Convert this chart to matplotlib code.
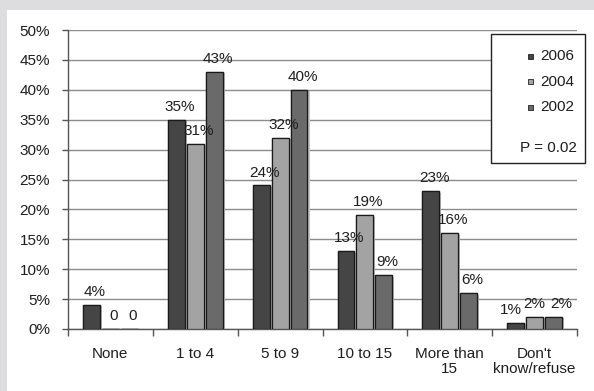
import numpy as np
import matplotlib.pyplot as plt
from matplotlib.patches import Rectangle
import matplotlib.patheffects as pe

plt.rcParams['font.family'] = ['Liberation Sans', 'DejaVu Sans']

# survey data (percent of respondents)
categories = ['None', '1 to 4', '5 to 9', '10 to 15', 'More than\n15', "Don't\nknow/refuse"]
years = ['2006', '2004', '2002']
pct_2006 = [4, 35, 24, 13, 23, 1]
pct_2004 = [0, 31, 32, 19, 16, 2]
pct_2002 = [0, 43, 40, 9, 6, 2]
p_value = 'P = 0.02'

series = [pct_2006, pct_2004, pct_2002]
colors = ['#454545', '#a3a3a3', '#6a6a6a']
offsets = [-0.223, 0.0, 0.223]
fs = 11
# spread the crowded labels in the last group a little
label_dx = {(5, 0): -0.06, (5, 1): 0.0, (5, 2): 0.09}

W, H = 594, 391
fig = plt.figure(figsize=(W / 100, H / 100), dpi=100)
fig.patch.set_facecolor('#dddddf')
# white panel
fig.add_artist(Rectangle((7 / W, 0), 1, 1 - 10 / H, transform=fig.transFigure,
                         facecolor='white', edgecolor='none', zorder=0))

ax = fig.add_axes([68 / W, 1 - 329 / H, (577 - 68) / W, (329 - 30) / H])
ax.set_facecolor('none')

x = np.arange(len(categories))
shadow = [pe.withSimplePatchShadow(offset=(1.5, -1.0), shadow_rgbFace='#c8c8c8', alpha=1.0), pe.Normal()]
for k, (vals, col, off) in enumerate(zip(series, colors, offsets)):
    bars = ax.bar(x + off, vals, width=0.2, color=col, edgecolor='#1a1a1a',
                  linewidth=0.9, zorder=3)
    for b in bars:
        b.set_path_effects(shadow)
    for i, v in enumerate(vals):
        lbl = '0' if v == 0 else f'{v}%'
        dx = label_dx.get((i, k), 0.04)
        ax.text(x[i] + off + dx, v + 1.0, lbl, ha='center', va='bottom',
                fontsize=fs, color='#1e1e1e', zorder=4)

ax.set_xlim(-0.5, len(categories) - 0.5)
ax.set_ylim(0, 50)
ax.set_yticks(np.arange(0, 51, 5))
ax.set_yticklabels([f'{v}%' for v in range(0, 51, 5)])
ax.yaxis.grid(True, color='#8c8c8c', linewidth=1.0, zorder=0)
ax.set_axisbelow(True)

ax.set_xticks(x)
ax.set_xticklabels(categories, linespacing=1.05)
ax.set_xticks(np.arange(-0.5, len(categories)), minor=True)
ax.tick_params(axis='x', which='major', length=0, pad=13, labelsize=fs, labelcolor='#1e1e1e')
ax.tick_params(axis='x', which='minor', length=5, width=1, color='#555555')
ax.tick_params(axis='y', length=4, width=1, color='#555555', pad=9, labelsize=fs, labelcolor='#1e1e1e')

for s in ['top', 'right']:
    ax.spines[s].set_visible(False)
for s in ['left', 'bottom']:
    ax.spines[s].set_color('#555555')
    ax.spines[s].set_linewidth(1.0)

# legend box
fig.add_artist(Rectangle((491 / W, 1 - 163 / H), (585 - 491) / W, (163 - 34) / H,
                         transform=fig.transFigure, facecolor='white',
                         edgecolor='#222222', linewidth=1.0, zorder=5))
for i, (yr, col) in enumerate(zip(years, colors)):
    yc = 56 + i * 25.5
    fig.add_artist(Rectangle((528 / W, 1 - (yc + 2.5) / H), 5 / W, 5 / H,
                             transform=fig.transFigure, facecolor=col,
                             edgecolor='#222222', linewidth=0.6, zorder=6))
    fig.text(574 / W, 1 - yc / H, yr, ha='right', va='center', fontsize=fs,
             color='#1e1e1e', zorder=6)
fig.text(577 / W, 1 - 148 / H, p_value, ha='right', va='center', fontsize=fs,
         color='#1e1e1e', zorder=6)

fig.savefig('out.png', dpi=100)
